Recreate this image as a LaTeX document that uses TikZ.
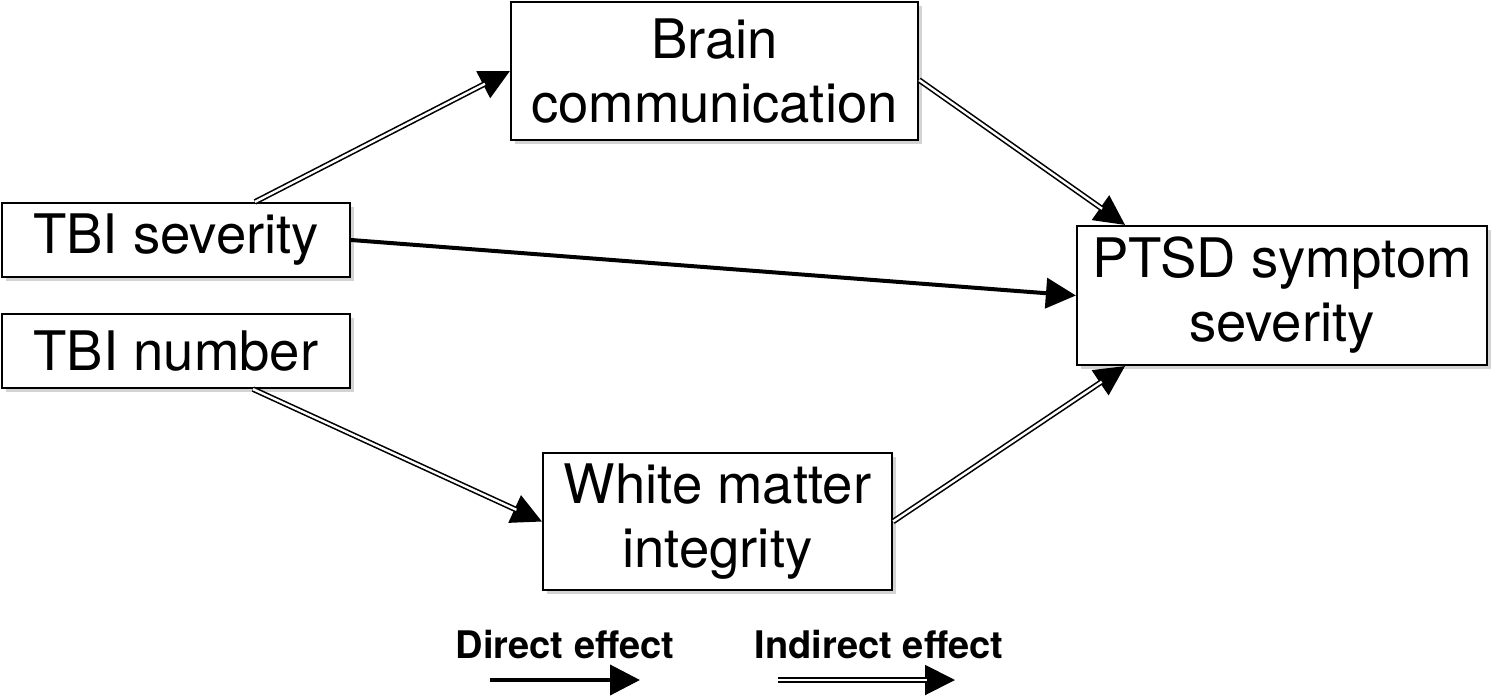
\documentclass[tikz,border=0pt]{standalone}
\usepackage{fontspec}
\setmainfont{TeX Gyre Heros}
\usetikzlibrary{arrows.meta,shadows,calc}
\begin{document}
\begin{tikzpicture}[x=1pt,y=-1pt,
  box/.style={draw=black, line width=2.2pt, fill=white, inner sep=0pt, align=center,
    font=\fontsize{54.5}{64}\selectfont,
    drop shadow={opacity=0.35, shadow xshift=4pt, shadow yshift=-4pt}},
  tipA/.style={-{Triangle[length=30pt,width=30pt]}},
  direct/.style={line width=4pt, tipA},
  indirect/.style={preaction={draw, line width=2pt, tipA, shorten >=0pt},
    double=white, double distance=2.4pt, line width=1.6pt, shorten >=28pt},
  legend/.style={font=\bfseries\fontsize{38}{44}\selectfont, inner sep=0pt}]
\useasboundingbox (0,0) rectangle (1500,696);
\node[box, minimum width=407pt, minimum height=138pt] (brain) at (714.5,71) {Brain\\communication};
\node[box, minimum width=348pt, minimum height=74pt] (sev) at (176,240) {TBI severity};
\node[box, minimum width=348pt, minimum height=74pt] (num) at (176,351) {TBI number};
\node[box, minimum width=410pt, minimum height=139pt] (ptsd) at (1282,295.5) {PTSD symptom\\severity};
\node[box, minimum width=349pt, minimum height=137pt] (wm) at (717.5,521.5) {White matter\\integrity};

\draw[indirect] ([xshift=79pt]sev.north) -- (brain.west);
\draw[indirect] ([yshift=-9pt]brain.east) -- ([xshift=-157pt]ptsd.north);
\draw[direct] (sev.east) -- (ptsd.west);
\draw[indirect] ([xshift=77pt]num.south) -- (wm.west);
\draw[indirect] (wm.east) -- ([xshift=-157pt]ptsd.south);

\node[legend] (ld) at (565,645) {Direct effect};
\node[legend] (li) at (879,645) {Indirect effect};
\coordinate (ld1) at (490,680);
\coordinate (ld2) at (640,680);
\coordinate (li1) at (778,680);
\coordinate (li2) at (955,680);
\draw[direct] (ld1) -- (ld2);
\draw[indirect] (li1) -- (li2);
\end{tikzpicture}
\end{document}
